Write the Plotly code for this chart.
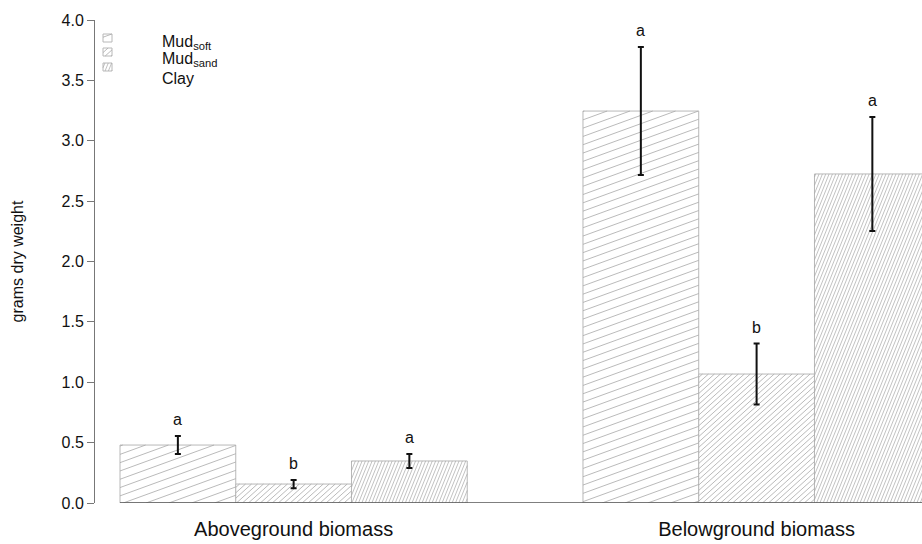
import numpy as np
import plotly.graph_objects as go

# ---------------- data ----------------
groups = ["Aboveground biomass", "Belowground biomass"]
substrates = ["Mud<sub>soft</sub>", "Mud<sub>sand</sub>", "Clay"]
mean_above = [0.48, 0.157, 0.348]
se_above = [0.075, 0.034, 0.058]
mean_below = [3.246, 1.068, 2.725]
se_below = [0.53, 0.252, 0.472]
letters_above = ["a", "b", "a"]
letters_below = ["a", "b", "a"]
y_ticks = [0.0, 0.5, 1.0, 1.5, 2.0, 2.5, 3.0, 3.5, 4.0]

# ---------------- geometry / style ----------------
W, H = 922, 544
L, R, T, B = 95, 922, 20, 503
XMIN, XMAX = 0.784, 7.929
YMAX = 4.0
FONT = "Liberation Sans, Arial, sans-serif"
# hatch: angle (deg), perpendicular spacing (px), line width
hatch_style = [(20, 7.8, 0.8), (42, 4.0, 0.8), (68, 3.1, 0.7)]
HATCH_COL = "#a8a8a8"
EDGE_COL = "#b8b8b8"

means = [mean_above, mean_below]
ses = [se_above, se_below]
letters = [letters_above, letters_below]


def pos(g, s):
    return 1.5 + g * 4 + s


def d2px(x, y):
    return (L + (x - XMIN) / (XMAX - XMIN) * (R - L), B - y / YMAX * (B - T))


def px2d(px, py):
    return (XMIN + (px - L) / (R - L) * (XMAX - XMIN), (B - py) / (B - T) * YMAX)


def hatch_segments(x0, y0, x1, y1, angle, spacing):
    """rect in pixel coords (y down). returns list of ((px,py),(px,py))"""
    th = np.radians(angle)
    v = np.array([np.cos(th), np.sin(th)])
    n = np.array([-np.sin(th), np.cos(th)])
    Y0, Y1 = -max(y0, y1), -min(y0, y1)
    X0, X1 = min(x0, x1), max(x0, x1)
    corners = [(X0, Y0), (X0, Y1), (X1, Y0), (X1, Y1)]
    cs = [n[0] * cx + n[1] * cy for cx, cy in corners]
    segs = []
    for k in range(int(np.ceil(min(cs) / spacing)), int(np.floor(max(cs) / spacing)) + 1):
        c = k * spacing
        p0 = c * n
        ta = [(X0 - p0[0]) / v[0], (X1 - p0[0]) / v[0]]
        tb = [(Y0 - p0[1]) / v[1], (Y1 - p0[1]) / v[1]]
        tmin = max(min(ta), min(tb))
        tmax = min(max(ta), max(tb))
        if tmax - tmin > 0.3:
            a = p0 + tmin * v
            b = p0 + tmax * v
            segs.append(((a[0], -a[1]), (b[0], -b[1])))
    return segs


fig = go.Figure()

# bars
for s in range(3):
    xs = [pos(g, s) for g in range(2)]
    ys = [means[g][s] for g in range(2)]
    fig.add_trace(go.Bar(
        x=xs, y=ys, width=1.0, name=substrates[s], showlegend=False,
        marker=dict(color="white", line=dict(color=EDGE_COL, width=1)),
        hoverinfo="skip"))

# hatching of bars (derived from bar values)
for s in range(3):
    ang, sp, lw = hatch_style[s]
    hx, hy = [], []
    for g in range(2):
        c = pos(g, s)
        ax0, ay0 = d2px(c - 0.5, 0)
        ax1, ay1 = d2px(c + 0.5, means[g][s])
        for (p, q) in hatch_segments(ax0, ay0, ax1, ay1, ang, sp):
            a = px2d(*p)
            b = px2d(*q)
            hx += [a[0], b[0], None]
            hy += [a[1], b[1], None]
    fig.add_trace(go.Scatter(x=hx, y=hy, mode="lines", showlegend=False,
                             line=dict(color=HATCH_COL, width=lw), hoverinfo="skip"))

# legend (manual, R style)
swatch_rows_py = [38, 52, 67]
text_rows_py = [42, 60, 78]
for s in range(3):
    cy = swatch_rows_py[s]
    sx0, sx1, sy0, sy1 = 103, 112, cy - 4, cy + 4
    ang, sp, lw = hatch_style[s]
    hx, hy = [], []
    for (p, q) in hatch_segments(sx0, sy0, sx1, sy1, ang, sp):
        a = px2d(*p)
        b = px2d(*q)
        hx += [a[0], b[0], None]
        hy += [a[1], b[1], None]
    bx = [sx0, sx1, sx1, sx0, sx0]
    by = [sy0, sy0, sy1, sy1, sy0]
    bd = [px2d(u, w) for u, w in zip(bx, by)]
    fig.add_trace(go.Scatter(x=[p[0] for p in bd], y=[p[1] for p in bd], mode="lines",
                             showlegend=False, line=dict(color=EDGE_COL, width=1), hoverinfo="skip"))
    fig.add_trace(go.Scatter(x=hx, y=hy, mode="lines", showlegend=False,
                             line=dict(color=HATCH_COL, width=lw), hoverinfo="skip"))
    fig.add_annotation(xref="paper", yref="paper", x=(160 - L) / (R - L),
                       y=(B - text_rows_py[s]) / (B - T),
                       xanchor="left", yanchor="middle", text=substrates[s], showarrow=False,
                       font=dict(family=FONT, size=16, color="#111"))

# error bars
ex, ey, ee = [], [], []
for g in range(2):
    for s in range(3):
        ex.append(pos(g, s))
        ey.append(means[g][s])
        ee.append(ses[g][s])
fig.add_trace(go.Scatter(x=ex, y=ey, mode="markers", showlegend=False, hoverinfo="skip",
                         marker=dict(size=1, opacity=0),
                         error_y=dict(type="data", array=ee, color="#111", thickness=2, width=3)))

# significance letters
for g in range(2):
    for s in range(3):
        fig.add_annotation(x=pos(g, s), y=means[g][s] + ses[g][s], text=letters[g][s],
                           yanchor="bottom", yshift=6, showarrow=False,
                           font=dict(family=FONT, size=16, color="#111"))

# baseline along y=0
fig.add_shape(type="line", xref="x", yref="y", x0=pos(0, 0) - 0.5, x1=XMAX, y0=0, y1=0,
              line=dict(color="#555", width=1.5))

fig.update_layout(
    width=W, height=H,
    margin=dict(l=L, r=W - R, t=T, b=H - B),
    plot_bgcolor="white", paper_bgcolor="white",
    barmode="overlay", showlegend=False,
    font=dict(family=FONT, color="#111"),
    xaxis=dict(range=[XMIN, XMAX], showgrid=False, zeroline=False, showline=False,
               tickvals=[(pos(g, 0) + pos(g, 2)) / 2 for g in range(2)], ticktext=groups,
               ticks="", tickfont=dict(family=FONT, size=20, color="#111"),
               ticklabelstandoff=12),
    yaxis=dict(range=[0, YMAX], showgrid=False, zeroline=False, showline=True,
               linecolor="#777", linewidth=1, ticks="outside", ticklen=7, tickcolor="#777",
               tickvals=y_ticks, tickformat=".1f",
               tickfont=dict(family=FONT, size=16, color="#111"),
               title=dict(text="grams dry weight", font=dict(family=FONT, size=16, color="#111"),
                          standoff=33)),
)

fig.write_html("out.html", config={"displayModeBar": False},
               post_script="document.body.style.margin='0';document.body.style.padding='0';")
